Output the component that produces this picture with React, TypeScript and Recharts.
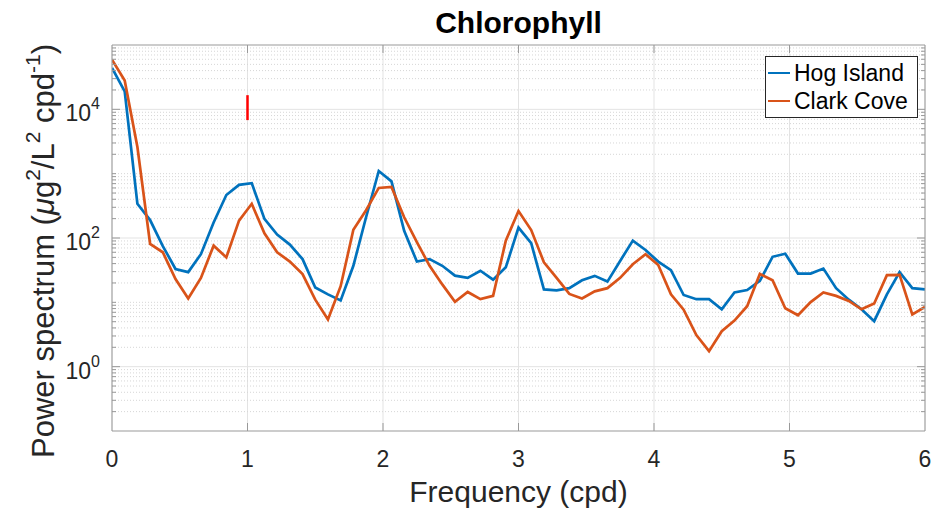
import { LineChart, Line, XAxis, YAxis, CartesianGrid, ReferenceLine } from "recharts"

// frequency (cpd)
const freq = [
  0, 0.09375, 0.1875, 0.28125, 0.375, 0.46875, 0.5625, 0.65625, 0.75, 0.84375,
  0.9375, 1.03125, 1.125, 1.21875, 1.3125, 1.40625, 1.5, 1.59375, 1.6875, 1.78125,
  1.875, 1.96875, 2.0625, 2.15625, 2.25, 2.34375, 2.4375, 2.53125, 2.625, 2.71875,
  2.8125, 2.90625, 3, 3.09375, 3.1875, 3.28125, 3.375, 3.46875, 3.5625, 3.65625,
  3.75, 3.84375, 3.9375, 4.03125, 4.125, 4.21875, 4.3125, 4.40625, 4.5, 4.59375,
  4.6875, 4.78125, 4.875, 4.96875, 5.0625, 5.15625, 5.25, 5.34375, 5.4375, 5.53125,
  5.625, 5.71875, 5.8125, 5.90625, 6,
]

const hogIsland = [
  44000, 19000, 340, 190, 75, 33, 29.5, 56, 174, 466,
  670, 713, 198, 113, 79, 47, 17, 13.3, 10.7, 37,
  210, 1100, 760, 129, 43, 47, 37, 26, 24, 31,
  22.5, 35, 145, 83, 15.9, 15.4, 16.6, 22, 25.8, 21,
  44, 91, 65, 43, 31.6, 13, 11.2, 11.2, 7.8, 14.2,
  15.5, 21.5, 51, 57, 28, 28, 33.5, 16.6, 11, 7.8,
  5.1, 13.3, 29.5, 16.6, 15.9,
]

const clarkCove = [
  59000, 28000, 2600, 81, 60, 23, 11.5, 24, 76, 50,
  186, 340, 118, 60, 43, 27.5, 11, 5.4, 17.8, 134,
  270, 600, 620, 210, 86, 37, 19, 10.2, 14.5, 11.2,
  12.6, 91, 262, 133, 42, 24, 13.5, 11.5, 14.8, 16.6,
  24, 39, 56, 38, 13.3, 7.7, 3.1, 1.74, 3.55, 5.2,
  8.7, 27.6, 22, 8.1, 6.3, 10.1, 14.2, 12.6, 10.5, 7.8,
  9.6, 26.5, 26.7, 6.5, 8.5,
]

// red marker at 1 cpd
const markerFreq = 1
const markerRange = [6800, 16600]

const xTicks = [0, 1, 2, 3, 4, 5, 6]
const yDecades = [0.1, 1, 10, 100, 1000, 10000]
const yLabelled = [1, 100, 10000]
const yDomain = [0.1, 100000]

const seriesNames = ["Hog Island", "Clark Cove"]
const BLUE = "#0072BD"
const ORANGE = "#D95319"
const AXIS = "#999999"
const TEXT = "#262626"
const FONT = "'Liberation Sans', Arial, Helvetica, sans-serif"

const data = freq.map((f, i) => ({ f, hog: hogIsland[i], clark: clarkCove[i] }))

const yTicks: number[] = []
yDecades.forEach((d) => {
  for (let m = 1; m <= 9; m++) yTicks.push(+(d * m).toPrecision(3))
})
yTicks.push(100000)
const minorY = yTicks.filter((v) => !yLabelled.includes(v) && v > 0.1 && v < 100000)

const LeftTick = ({ x, y, payload }: any) => {
  const v = payload.value
  if (v <= 0.1 || v >= 100000) return null
  const major = yLabelled.includes(v)
  const exp = Math.round(Math.log10(v))
  return (
    <g>
      <line x1={x} x2={x + (major ? 8 : 4)} y1={y} y2={y} stroke={AXIS} />
      {major && (
        <text x={x - 12} y={y + 12} textAnchor="end" fontSize={23} fill={TEXT} fontFamily={FONT}>
          <tspan>10</tspan>
          <tspan dy={-12} fontSize={16}>{exp}</tspan>
        </text>
      )}
    </g>
  )
}

const RightTick = ({ x, y, payload }: any) => {
  const v = payload.value
  if (v <= 0.1 || v >= 100000) return null
  const major = yLabelled.includes(v)
  return <line x1={x} x2={x - (major ? 8 : 4)} y1={y} y2={y} stroke={AXIS} />
}

const BottomTick = ({ x, y, payload }: any) => (
  <g>
    {payload.value > 0 && payload.value < 6 && <line x1={x} x2={x} y1={y} y2={y - 8} stroke={AXIS} />}
    <text x={x} y={y + 36} textAnchor="middle" fontSize={23} fill={TEXT} fontFamily={FONT}>
      {payload.value}
    </text>
  </g>
)

const TopTick = ({ x, y, payload }: any) =>
  payload.value > 0 && payload.value < 6 ? <line x1={x} x2={x} y1={y} y2={y + 8} stroke={AXIS} /> : null

const XLabel = () => (
  <text x={518.5} y={502} textAnchor="middle" fontSize={30} fill={TEXT} fontFamily={FONT}>
    Frequency (cpd)
  </text>
)

const YLabel = () => (
  <text
    x={0}
    y={0}
    transform="translate(54 251) rotate(-90)"
    textAnchor="middle"
    fontSize={31}
    fill={TEXT}
    fontFamily={FONT}
  >
    <tspan>Power spectrum (</tspan>
    <tspan fontStyle="italic">μ</tspan>
    <tspan>g</tspan>
    <tspan dy={-14} fontSize={21}>2</tspan>
    <tspan dy={14}>/L</tspan>
    <tspan dy={-14} fontSize={21}>2</tspan>
    <tspan dy={14}> cpd</tspan>
    <tspan dy={-14} fontSize={21}>-1</tspan>
    <tspan dy={14}>)</tspan>
  </text>
)

const Title = () => (
  <text x={518.5} y={33} textAnchor="middle" fontSize={30} fontWeight="bold" fill="#000" fontFamily={FONT}>
    Chlorophyll
  </text>
)

export default function App() {
  return (
    <div style={{ position: "absolute", left: 0, top: 0, width: 942, height: 510, background: "#fff" }}>
      <LineChart width={942} height={510} data={data} margin={{ top: 44, right: 16, bottom: 78, left: 111 }}>
        <CartesianGrid xAxisId="b" yAxisId="l" horizontal={false} stroke="#e3e3e3" />
        {minorY.map((v) => (
          <ReferenceLine key={"m" + v} xAxisId="b" yAxisId="l" y={v} stroke="#d6d6d6" strokeDasharray="1 2" />
        ))}
        {yLabelled.map((v) => (
          <ReferenceLine key={"M" + v} xAxisId="b" yAxisId="l" y={v} stroke="#e3e3e3" />
        ))}
        <XAxis
          xAxisId="b"
          type="number"
          dataKey="f"
          domain={[0, 6]}
          ticks={xTicks}
          interval={0}
          allowDataOverflow
          height={1}
          tickSize={0}
          tickMargin={0}
          tickLine={false}
          axisLine={{ stroke: AXIS }}
          tick={<BottomTick />}
          label={XLabel}
        />
        <XAxis
          xAxisId="t"
          orientation="top"
          type="number"
          dataKey="f"
          domain={[0, 6]}
          ticks={xTicks}
          interval={0}
          allowDataOverflow
          height={1}
          tickSize={0}
          tickMargin={0}
          tickLine={false}
          axisLine={{ stroke: AXIS }}
          tick={<TopTick />}
          label={Title}
        />
        <YAxis
          yAxisId="l"
          scale="log"
          domain={yDomain}
          ticks={yTicks}
          interval={0}
          allowDataOverflow
          width={1}
          tickSize={0}
          tickMargin={0}
          tickLine={false}
          axisLine={{ stroke: AXIS }}
          tick={<LeftTick />}
          label={YLabel}
        />
        <YAxis
          yAxisId="r"
          orientation="right"
          scale="log"
          domain={yDomain}
          ticks={yTicks}
          interval={0}
          allowDataOverflow
          width={1}
          tickSize={0}
          tickMargin={0}
          tickLine={false}
          axisLine={{ stroke: AXIS }}
          tick={<RightTick />}
        />
        <ReferenceLine
          xAxisId="b"
          yAxisId="l"
          segment={[
            { x: markerFreq, y: markerRange[0] },
            { x: markerFreq, y: markerRange[1] },
          ]}
          stroke="#ff0000"
          strokeWidth={2.5}
        />
        <Line
          xAxisId="b"
          yAxisId="l"
          dataKey="hog"
          name={seriesNames[0]}
          stroke={BLUE}
          strokeWidth={2.7}
          dot={false}
          isAnimationActive={false}
        />
        <Line
          xAxisId="b"
          yAxisId="l"
          dataKey="clark"
          name={seriesNames[1]}
          stroke={ORANGE}
          strokeWidth={2.7}
          dot={false}
          isAnimationActive={false}
        />
      </LineChart>
      <div
        style={{
          position: "absolute",
          left: 765,
          top: 56,
          width: 151,
          height: 60,
          border: "1px solid #262626",
          background: "#fff",
          fontFamily: FONT,
          fontSize: 23,
          color: "#000",
        }}
      >
        {seriesNames.map((name, i) => (
          <div key={name} style={{ position: "absolute", left: 2, top: i === 0 ? 2 : 30, height: 28, display: "flex", alignItems: "center", whiteSpace: "nowrap" }}>
            <span style={{ display: "inline-block", width: 22, height: 2.6, background: i === 0 ? BLUE : ORANGE, marginRight: 4 }} />
            {name}
          </div>
        ))}
      </div>
    </div>
  )
}
